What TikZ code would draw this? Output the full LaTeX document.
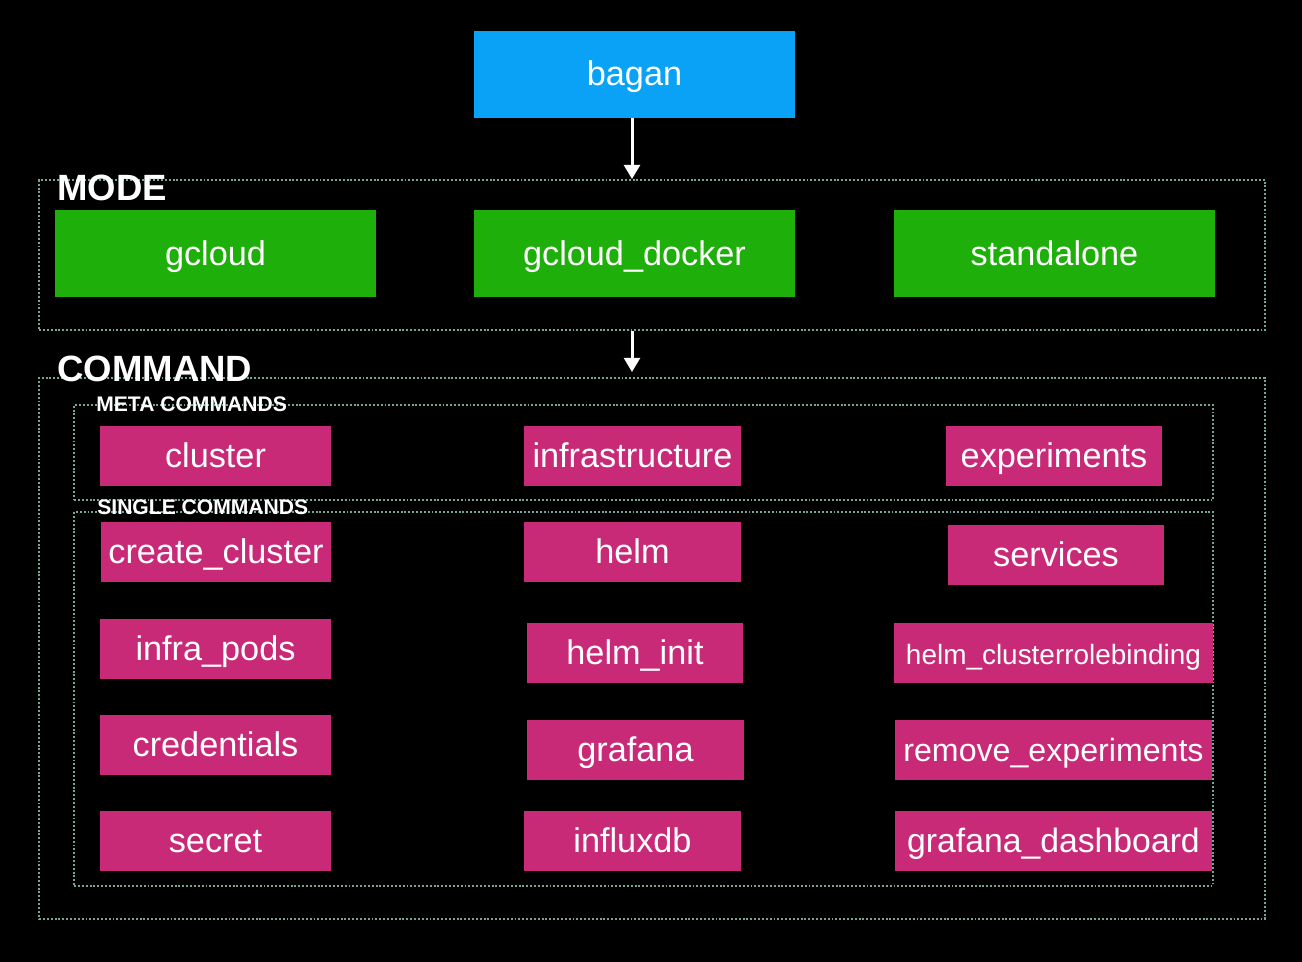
\documentclass[tikz,border=0pt]{standalone}
\usepackage{fontspec}
\setmainfont{Liberation Sans}
\usetikzlibrary{arrows.meta}
\definecolor{baganblue}{RGB}{10,162,246}
\definecolor{modegreen}{RGB}{31,175,10}
\definecolor{cmdpink}{RGB}{200,42,120}
\definecolor{framegray}{RGB}{120,165,155}

\begin{document}
\begin{tikzpicture}[x=0.02cm, y=-0.02cm, font=\fontsize{19.5}{22}\selectfont,
  top/.style = {fill=baganblue, text=white, minimum width=6.42cm, minimum height=1.74cm, text height=13pt, text depth=0pt},
  mode/.style = {fill=modegreen, text=white, minimum width=6.42cm, minimum height=1.74cm, text height=13.6pt, text depth=0pt},
  cmd/.style = {fill=cmdpink, text=white, minimum height=1.2cm, inner sep=1pt, text height=13.6pt, text depth=0pt},
  frame/.style = {draw=framegray, line width=1.1pt, dash pattern=on 1.1pt off 1.1pt, inner sep=0pt},
  title/.style = {text=white, anchor=base west, inner sep=0pt, font=\bfseries\fontsize{20.8}{24}\selectfont},
  subtitle/.style = {text=white, anchor=base west, inner sep=0pt, font=\bfseries\fontsize{12}{14}\selectfont},
  arr/.style = {draw=white, line width=1.7pt, -{Triangle[length=8pt, width=9pt]}}]
\fill[black] (0,0) rectangle (1302,962);
\useasboundingbox (0,0) rectangle (1302,962);
% frames
\node[frame, minimum width=24.52cm, minimum height=3cm] (modeframe) at (652,255) {};
\node[frame, minimum width=24.52cm, minimum height=10.82cm] (cmdframe) at (652,648.5) {};
\node[frame, minimum width=22.78cm, minimum height=1.9cm] (metaframe) at (643.5,452.5) {};
\node[frame, minimum width=22.78cm, minimum height=7.48cm] (singleframe) at (643.5,699) {};
\node[title] (modelabel) at (57,201) {MODE};
\node[title] (cmdlabel) at (57,382) {COMMAND};
\node[subtitle] (metalabel) at (96,412) {META COMMANDS};
\node[subtitle] (singlelabel) at (97,515) {SINGLE COMMANDS};
% top and modes
\node[top] (bagan) at (634.5,74.5) {bagan};
\node[mode] (gcloud) at (215.5,253.5) {gcloud};
\node[mode] (gclouddocker) at (634.5,253.5) {gcloud\_docker};
\node[mode] (standalone) at (1054.5,253.5) {standalone};
% meta commands
\node[cmd, minimum width=4.62cm] (cluster) at (215.5,456) {cluster};
\node[cmd, minimum width=4.34cm] (infrastructure) at (632.5,456) {infrastructure};
\node[cmd, minimum width=4.32cm] (experiments) at (1054,456) {experiments};
% single commands
\node[cmd, minimum width=4.6cm] (createcluster) at (216,552) {create\_cluster};
\node[cmd, minimum width=4.34cm] (helm) at (632.5,552) {helm};
\node[cmd, minimum width=4.32cm] (services) at (1056,555) {services};
\node[cmd, minimum width=4.62cm] (infrapods) at (215.5,649) {infra\_pods};
\node[cmd, minimum width=4.32cm] (helminit) at (635,653) {helm\_init};
\node[cmd, minimum width=6.38cm, font=\fontsize{15.9}{18}\selectfont] (helmcrb) at (1053.5,653) {helm\_clusterrolebinding};
\node[cmd, minimum width=4.62cm] (credentials) at (215.5,745) {credentials};
\node[cmd, minimum width=4.34cm] (grafana) at (635.5,750) {grafana};
\node[cmd, minimum width=6.34cm, font=\fontsize{18.3}{21}\selectfont] (removeexp) at (1053.5,750) {remove\_experiments};
\node[cmd, minimum width=4.62cm] (secret) at (215.5,841) {secret};
\node[cmd, minimum width=4.34cm] (influxdb) at (632.5,841) {influxdb};
\node[cmd, minimum width=6.34cm, font=\fontsize{19.2}{22}\selectfont] (grafanadash) at (1053.5,841) {grafana\_dashboard};
% arrows
\coordinate (cmdtop) at (632,372);
\draw[arr] (bagan.south -| cmdtop) -- (cmdtop |- modeframe.north);
\draw[arr] (modeframe.south -| cmdtop) -- (cmdtop);
\end{tikzpicture}
\end{document}
